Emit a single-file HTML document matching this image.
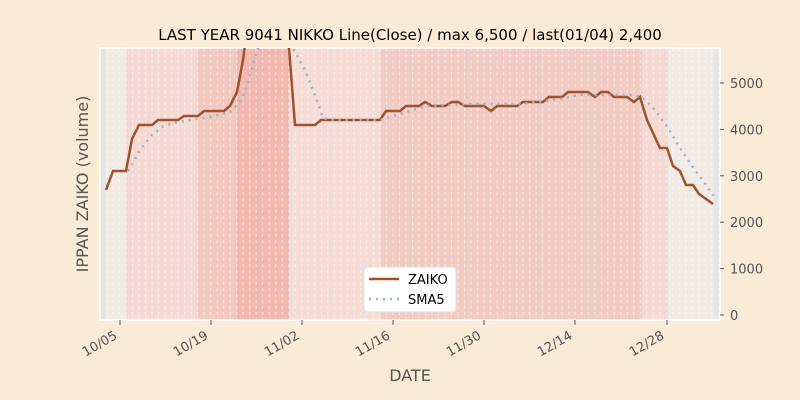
<!DOCTYPE html><html><head><style>html,body{margin:0;padding:0;background:#faebd7;width:800px;height:400px;overflow:hidden}svg{display:block}</style></head><body>
<svg width="800" height="400" xmlns="http://www.w3.org/2000/svg" font-family="DejaVu Sans, sans-serif">
<rect width="800" height="400" fill="#faebd7"/>
<defs><clipPath id="c"><rect x="100" y="48" width="620" height="272"/></clipPath>
<pattern id="d" x="106" y="0" width="6.51" height="6" patternUnits="userSpaceOnUse"><line x1="0.5" y1="0" x2="0.5" y2="3" stroke="#fff" stroke-opacity="0.55" stroke-width="1"/></pattern></defs>
<rect x="100" y="48" width="620" height="272" fill="#e5e5e5"/>
<rect x="106" y="48" width="20" height="272" fill="#f2ebe5"/>
<rect x="126" y="48" width="72" height="272" fill="#f5d9d2"/>
<rect x="198" y="48" width="39" height="272" fill="#f2c8bf"/>
<rect x="237" y="48" width="52" height="272" fill="#f2b8b0"/>
<rect x="289" y="48" width="92" height="272" fill="#f5dcd5"/>
<rect x="381" y="48" width="261" height="272" fill="#f2cbc3"/>
<rect x="642" y="48" width="26" height="272" fill="#f5d9d2"/>
<rect x="668" y="48" width="46" height="272" fill="#f2ebe5"/>
<rect x="100" y="48" width="620" height="272" fill="url(#d)"/>
<rect x="100" y="48" width="620" height="272" fill="none" stroke="#fff" stroke-width="1.5"/>
<g clip-path="url(#c)" fill="none">
<polyline stroke="#a0522d" stroke-width="2.5" points="106,190 113,171 126,171 132,139 139,125 152,125 158,120 178,120 184,116 198,116 204,111 224,111 230,106 237,92 243,60 247,30 252,14 283,14 289,48 295,125 315,125 321,120 380,120 386,111 400,111 406,106 419,106 425,102 432,106 445,106 452,102 458,102 465,106 484,106 491,111 497,106 517,106 523,102 543,102 549,97 562,97 568,92 588,92 595,97 601,92 608,92 614,97 627,97 634,102 640,97 647,120 660,148 667,148 673,166 680,171 686,185 693,185 699,194 713,204"/>
<polyline stroke="#9ab4c8" stroke-width="2.5" stroke-dasharray="2,5" points="128,171 140,150 152,135 165,125 190,120 215,116 232,111 243,97 250,75 258,48 263,30 285,30 293,48 305,70 315,95 323,118 330,120 380,120 400,114 425,106 470,104 520,104 560,99 580,95 630,95 642,97 655,110 668,128 680,148 695,170 714,196"/>
</g>
<g stroke="#555" stroke-width="1">
<line x1="720" y1="315" x2="724" y2="315"/><line x1="720" y1="268.6" x2="724" y2="268.6"/><line x1="720" y1="222.2" x2="724" y2="222.2"/><line x1="720" y1="175.8" x2="724" y2="175.8"/><line x1="720" y1="129.4" x2="724" y2="129.4"/><line x1="720" y1="83" x2="724" y2="83"/>
<line x1="120" y1="320" x2="120" y2="325"/><line x1="211" y1="320" x2="211" y2="325"/><line x1="302" y1="320" x2="302" y2="325"/><line x1="393" y1="320" x2="393" y2="325"/><line x1="484" y1="320" x2="484" y2="325"/><line x1="575" y1="320" x2="575" y2="325"/><line x1="667" y1="320" x2="667" y2="325"/>
</g>
<g fill="#555" font-size="13">
<text x="730" y="320">0</text><text x="730" y="273.6">1000</text><text x="730" y="227.2">2000</text><text x="730" y="180.8">3000</text><text x="730" y="134.4">4000</text><text x="730" y="88">5000</text>
<g text-anchor="end"><text transform="translate(118,338) rotate(-30)">10/05</text><text transform="translate(209,338) rotate(-30)">10/19</text><text transform="translate(300,338) rotate(-30)">11/02</text><text transform="translate(391,338) rotate(-30)">11/16</text><text transform="translate(482,338) rotate(-30)">11/30</text><text transform="translate(573,338) rotate(-30)">12/14</text><text transform="translate(665,338) rotate(-30)">12/28</text></g>
</g>
<text x="410" y="40" text-anchor="middle" font-size="15" fill="#000">LAST YEAR 9041 NIKKO Line(Close) / max 6,500 / last(01/04) 2,400</text>
<text x="410" y="381" text-anchor="middle" font-size="16" fill="#555">DATE</text>
<text transform="translate(88,184) rotate(-90)" text-anchor="middle" font-size="16" fill="#555">IPPAN ZAIKO (volume)</text>
<rect x="364" y="267" width="92" height="45" rx="3" fill="#fff" stroke="#ddd"/>
<line x1="369" y1="279" x2="399" y2="279" stroke="#a0522d" stroke-width="2.5"/>
<line x1="369" y1="299" x2="399" y2="299" stroke="#9ab4c8" stroke-width="2.5" stroke-dasharray="2,5"/>
<text x="408" y="284" font-size="13" fill="#000">ZAIKO</text>
<text x="408" y="304" font-size="13" fill="#000">SMA5</text>
</svg></body></html>
